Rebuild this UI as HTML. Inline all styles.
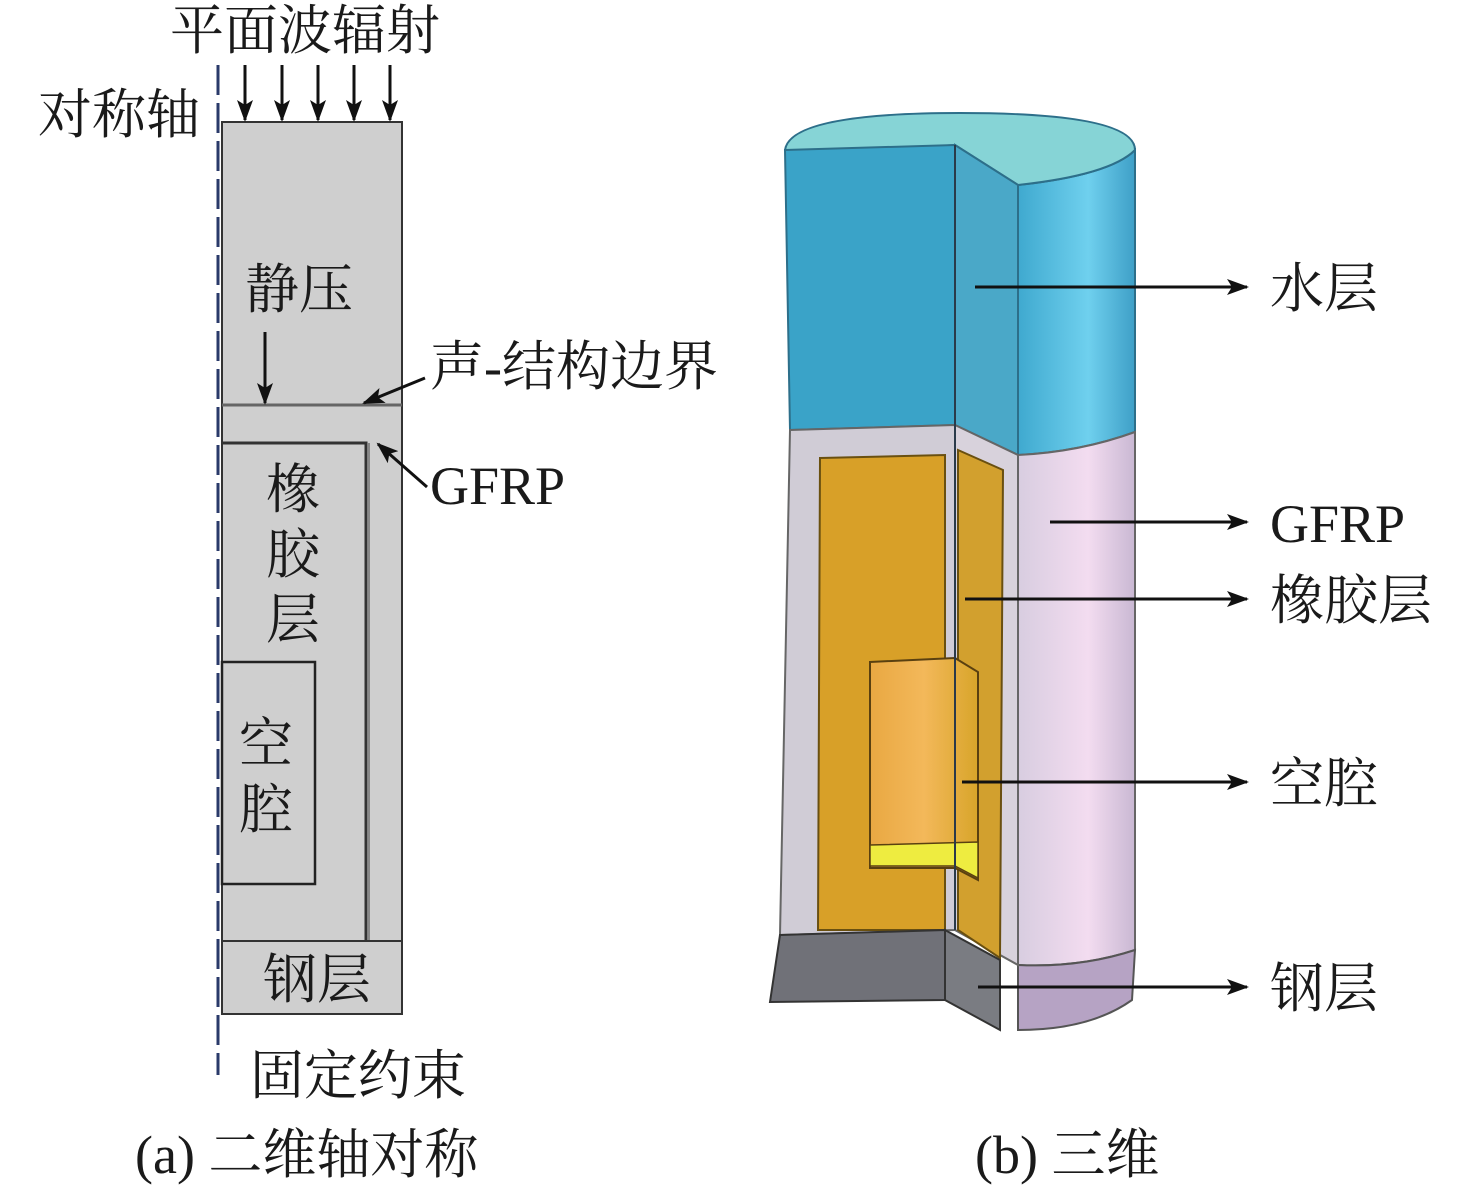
<!DOCTYPE html>
<html><head><meta charset="utf-8"><style>
html,body{margin:0;padding:0;background:#fff}
svg text{font-family:"Liberation Serif","Noto Serif CJK SC",serif;fill:#1a1a1a}
</style></head><body>
<svg width="1476" height="1188" viewBox="0 0 1476 1188" xmlns="http://www.w3.org/2000/svg">
<defs>
<marker id="b" markerWidth="22" markerHeight="16" refX="20" refY="8" orient="auto" markerUnits="userSpaceOnUse">
<path d="M0,0 L22,8 L0,16 L5,8 z" fill="#111"/></marker>
<linearGradient id="wr" x1="0" x2="1"><stop offset="0" stop-color="#3fa9cf"/><stop offset="0.6" stop-color="#6fd0ee"/><stop offset="1" stop-color="#3e9fc7"/></linearGradient>
<linearGradient id="pr" x1="0" x2="1"><stop offset="0" stop-color="#d8cde0"/><stop offset="0.6" stop-color="#f3dcf0"/><stop offset="1" stop-color="#c9b8d3"/></linearGradient>
<linearGradient id="cv" x1="0" x2="1"><stop offset="0" stop-color="#e9a842"/><stop offset="0.5" stop-color="#f3b85a"/><stop offset="1" stop-color="#d8a52a"/></linearGradient>
</defs>

<!-- LEFT PANEL -->
<rect x="222" y="122" width="180" height="892" fill="#cfcfcf" stroke="#333" stroke-width="2"/>
<line x1="218" y1="65" x2="218" y2="1075" stroke="#2a3a6a" stroke-width="3" stroke-dasharray="30,8"/>
<line x1="222" y1="405" x2="402" y2="405" stroke="#666" stroke-width="3"/>
<polyline points="222,443 366,443 366,940" fill="none" stroke="#333" stroke-width="3"/>
<line x1="369" y1="443" x2="369" y2="940" stroke="#888" stroke-width="2"/>
<rect x="222" y="662" width="93" height="222" fill="none" stroke="#222" stroke-width="2.5"/>
<line x1="222" y1="941" x2="402" y2="941" stroke="#333" stroke-width="2"/>
<g stroke="#111" stroke-width="3" marker-end="url(#b)">
<line x1="245" y1="65" x2="245" y2="120"/><line x1="282" y1="65" x2="282" y2="120"/>
<line x1="318" y1="65" x2="318" y2="120"/><line x1="354" y1="65" x2="354" y2="120"/>
<line x1="390" y1="65" x2="390" y2="120"/>
<line x1="265" y1="332" x2="265" y2="403"/>
<line x1="425" y1="378" x2="364" y2="403"/>
<line x1="427" y1="487" x2="378" y2="444"/>
</g>
<g font-size="54">
<text x="170" y="49">平面波辐射</text>
<text x="38" y="133">对称轴</text>
<text x="245" y="308">静压</text>
<text x="430" y="385">声-结构边界</text>
<text x="430" y="504">GFRP</text>
<text x="266" y="508">橡</text><text x="266" y="573">胶</text><text x="266" y="638">层</text>
<text x="239" y="762">空</text><text x="239" y="828">腔</text>
<text x="263" y="998">钢层</text>
<text x="250" y="1094">固定约束</text>
<text x="135" y="1173">(a) 二维轴对称</text>
<text x="975" y="1173">(b) 三维</text>
</g>

<!-- RIGHT 3D -->
<path d="M1018,185 L1018,455 Q1080,452 1135,432 L1135,150 Q1110,175 1018,185 z" fill="url(#wr)" stroke="#2d6f8a" stroke-width="2"/>
<path d="M1018,455 Q1080,452 1135,432 L1135,950 Q1080,968 1018,965 z" fill="url(#pr)" stroke="#666" stroke-width="2"/>
<path d="M1018,965 Q1080,968 1135,950 L1132,1000 Q1090,1030 1018,1030 z" fill="#b6a3c4" stroke="#555" stroke-width="2"/>
<path d="M785,150 Q790,113 960,113 Q1135,113 1135,150 Q1110,175 1018,185 L955,145 L790,155 z" fill="#86d4d6" stroke="#2d6f8a" stroke-width="2"/>
<path d="M785,150 L955,145 L955,425 L790,430 z" fill="#3aa3c8" stroke="#2d6f8a" stroke-width="2"/>
<path d="M790,430 L955,425 L955,930 L780,935 z" fill="#d0ccd6" stroke="#666" stroke-width="2"/>
<path d="M820,458 L945,455 L945,930 L818,930 z" fill="#d8a028" stroke="#6a5010" stroke-width="2"/>
<path d="M780,935 L945,930 L945,1000 L770,1002 z" fill="#707178" stroke="#333" stroke-width="2"/>
<path d="M955,145 L1018,185 L1018,455 L955,425 z" fill="#4aa8c8" stroke="#2d6f8a" stroke-width="2"/>
<path d="M955,425 L1018,455 L1018,965 L955,930 z" fill="#d8d2dc" stroke="#666" stroke-width="2"/>
<path d="M958,450 L1003,470 L1000,958 L958,930 z" fill="#d2a02e" stroke="#6a5010" stroke-width="2"/>
<path d="M945,930 L1000,960 L1000,1030 L945,1000 z" fill="#7a7c82" stroke="#333" stroke-width="2"/>
<path d="M870,662 L955,658 L978,672 L978,880 L955,868 L870,868 z" fill="url(#cv)" stroke="#5a4010" stroke-width="2"/>
<path d="M870,845 L978,842 L978,878 L955,866 L870,866 z" fill="#eeec40" stroke="#5a4010" stroke-width="1.5"/>
<line x1="955" y1="145" x2="955" y2="930" stroke="#2a3a4a" stroke-width="2"/>
<g stroke="#111" stroke-width="3" marker-end="url(#b)">
<line x1="975" y1="287" x2="1247" y2="287"/>
<line x1="1050" y1="522" x2="1247" y2="522"/>
<line x1="965" y1="599" x2="1247" y2="599"/>
<line x1="962" y1="782" x2="1247" y2="782"/>
<line x1="978" y1="987" x2="1247" y2="987"/>
</g>
<g font-size="54">
<text x="1270" y="307">水层</text>
<text x="1270" y="542">GFRP</text>
<text x="1270" y="619">橡胶层</text>
<text x="1270" y="802">空腔</text>
<text x="1270" y="1007">钢层</text>
</g>
</svg>
</body></html>
